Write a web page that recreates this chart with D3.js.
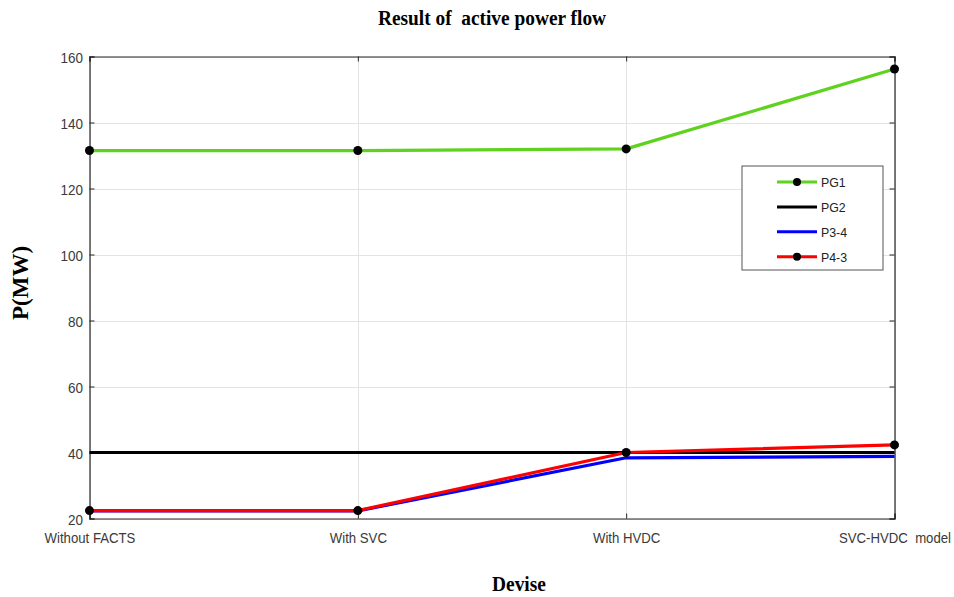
<!DOCTYPE html>
<html><head><meta charset="utf-8">
<script src="https://cdn.jsdelivr.net/npm/d3@7"></script>
<style>body{margin:0;background:#fff} text{white-space:pre}</style>
</head><body>
<svg id="c" width="954" height="597"></svg>
<script>
const categories = ["Without FACTS", "With SVC", "With HVDC", "SVC-HVDC  model"];
const PG1 = [131.5, 131.5, 132.0, 156.2];
const PG2 = [40.0, 40.0, 40.0, 40.0];
const P34 = [22.3, 22.3, 38.4, 38.8];
const P43 = [22.4, 22.4, 40.0, 42.3];
const yTicks = [20, 40, 60, 80, 100, 120, 140, 160];
const seriesNames = ["PG1", "PG2", "P3-4", "P4-3"];
const seriesColors = ["#5fd11f", "#000000", "#0000ff", "#ff0000"];
const seriesMarkers = [true, false, false, true];
const seriesData = [PG1, PG2, P34, P43];

const svg = d3.select("#c");
const L = 89.5, R = 894.5, T = 56.5, B = 518.5;
const x = d3.scalePoint().domain(categories).range([L, R]);
const y = d3.scaleLinear().domain([20, 160]).range([B, T]);

// grid
svg.append("g").selectAll("line").data(yTicks).join("line")
  .attr("x1", L).attr("x2", R).attr("y1", d => Math.round(y(d)) + .5).attr("y2", d => Math.round(y(d)) + .5)
  .attr("stroke", "#e3e3e3").attr("stroke-width", 1);
svg.append("g").selectAll("line").data(categories).join("line")
  .attr("x1", d => Math.round(x(d)) + .5).attr("x2", d => Math.round(x(d)) + .5).attr("y1", T).attr("y2", B)
  .attr("stroke", "#e3e3e3").attr("stroke-width", 1);

// axes
const font = "'Liberation Sans', Arial, sans-serif";
const yAx = svg.append("g").attr("transform", `translate(${L},0)`)
  .call(d3.axisLeft(y).tickValues(yTicks).tickSize(-5).tickPadding(6.5));
const xAx = svg.append("g").attr("transform", `translate(0,${B})`)
  .call(d3.axisBottom(x).tickSize(-5).tickPadding(12));
const yAxR = svg.append("g").attr("transform", `translate(${R},0)`)
  .call(d3.axisRight(y).tickValues(yTicks).tickSize(-5).tickFormat(""));
const xAxT = svg.append("g").attr("transform", `translate(0,${T})`)
  .call(d3.axisTop(x).tickSize(-5).tickFormat(""));
[yAx, xAx, yAxR, xAxT].forEach(g => {
  g.select(".domain").attr("stroke", "#262626").attr("stroke-width", 1.2);
  g.selectAll(".tick line").attr("stroke", "#262626");
  g.selectAll("text").attr("font-family", font).attr("font-size", 15).attr("fill", "#3a3a3a");
});
yAx.selectAll(".tick text").attr("dy", "0.42em").each(function () {
  const tx = +this.getAttribute("x") || 0;
  this.setAttribute("transform", `translate(${tx},0) scale(0.9,1) translate(${-tx},0)`);
});
xAx.selectAll(".tick text").attr("y", 24.5).attr("dy", 0).attr("transform", "scale(0.88,1)");

// lines
const line = d3.line().x((d, i) => x(categories[i])).y(d => y(d));
const order = [1, 2, 3, 0];
order.forEach(k => {
  svg.append("path").datum(seriesData[k]).attr("d", line)
    .attr("fill", "none").attr("stroke", seriesColors[k]).attr("stroke-width", 3.2)
    .attr("stroke-linejoin", "round");
});
order.forEach(k => {
  if (!seriesMarkers[k]) return;
  svg.append("g").selectAll("circle").data(seriesData[k]).join("circle")
    .attr("cx", (d, i) => x(categories[i])).attr("cy", d => y(d)).attr("r", 4.5).attr("fill", "#000");
});

// legend
const lg = svg.append("g");
lg.append("rect").attr("x", 742).attr("y", 166).attr("width", 141).attr("height", 104)
  .attr("fill", "#fff").attr("stroke", "#555").attr("stroke-width", 1);
seriesNames.forEach((n, i) => {
  const yy = 182 + i * 24.9;
  lg.append("line").attr("x1", 777).attr("x2", 817).attr("y1", yy).attr("y2", yy)
    .attr("stroke", seriesColors[i]).attr("stroke-width", 3);
  if (seriesMarkers[i]) lg.append("circle").attr("cx", 797).attr("cy", yy).attr("r", 4).attr("fill", "#000");
  lg.append("text").attr("x", 821).attr("y", yy).attr("dy", "0.38em")
    .attr("font-family", font).attr("font-size", 13).attr("fill", "#222")
    .attr("transform", "translate(821,0) scale(0.95,1) translate(-821,0)").text(n);
});

// titles
const serif = "'Liberation Serif', 'Times New Roman', serif";
svg.append("text").attr("x", 492).attr("y", 25).attr("text-anchor", "middle")
  .attr("font-family", serif).attr("font-weight", "bold").attr("font-size", 22)
  .attr("transform", "translate(492,0) scale(0.88,1) translate(-492,0)")
  .text("Result of  active power flow");
svg.append("text").attr("x", 519).attr("y", 591).attr("text-anchor", "middle")
  .attr("font-family", serif).attr("font-weight", "bold").attr("font-size", 22)
  .attr("transform", "translate(519,0) scale(0.88,1) translate(-519,0)").text("Devise");
svg.append("text").attr("transform", "translate(28,283) rotate(-90)").attr("text-anchor", "middle")
  .attr("font-family", serif).attr("font-weight", "bold").attr("font-size", 23).text("P(MW)");
</script>
</body></html>
